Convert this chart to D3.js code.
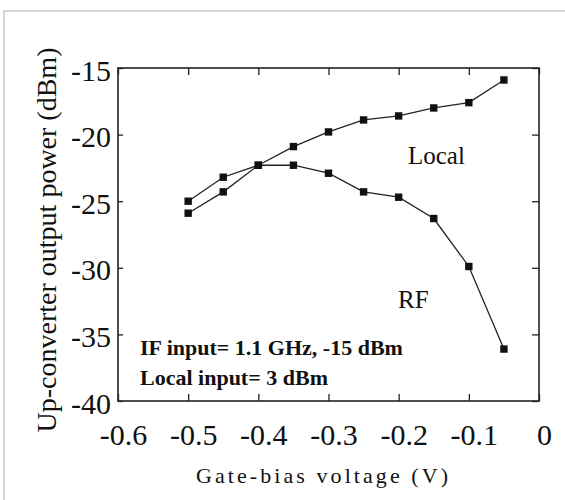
<!DOCTYPE html>
<html>
<head>
<meta charset="utf-8">
<script src="https://cdn.jsdelivr.net/npm/d3@7/dist/d3.min.js"></script>
</head>
<body style="margin:0">
<svg width="565" height="500" font-family="Liberation Serif"></svg>
<script>

// gate-bias voltage (V)
var gateBias = [-0.5, -0.45, -0.4, -0.35, -0.3, -0.25, -0.2, -0.15, -0.1, -0.05];
// up-converter output power (dBm)
var localPower = [-25.9, -24.3, -22.3, -20.9, -19.8, -18.9, -18.6, -18.0, -17.6, -15.9];
var rfPower    = [-25.0, -23.2, -22.3, -22.3, -22.9, -24.3, -24.7, -26.3, -29.9, -36.1];

var xTicks = [-0.6, -0.5, -0.4, -0.3, -0.2, -0.1, 0];
var xTickLabels = ["-0.6", "-0.5", "-0.4", "-0.3", "-0.2", "-0.1", "0"];
var yTicks = [-40, -35, -30, -25, -20, -15];
var yTickLabels = ["-40", "-35", "-30", "-25", "-20", "-15"];

var svg = d3.select("svg"),
    margin = {top: 68, right: 26, bottom: 99, left: 118},
    width = +svg.attr("width") - margin.left - margin.right,
    height = +svg.attr("height") - margin.top - margin.bottom;

// light frame of the scanned figure
svg.append("path")
    .attr("d", "M4,500V11H565")
    .attr("fill", "none")
    .attr("stroke", "#c9c9c9")
    .attr("stroke-width", 1.5);

var g = svg.append("g").attr("transform", "translate(" + margin.left + "," + margin.top + ")");

var x = d3.scaleLinear().domain([-0.6, 0]).range([0, width]);
var y = d3.scaleLinear().domain([-40, -15]).range([height, 0]);

// axes: inward ticks on all sides, labels only bottom and left
var xAxis = g.append("g")
    .attr("transform", "translate(0," + height + ")")
    .call(d3.axisBottom(x).tickValues(xTicks).tickSize(-7).tickSizeOuter(0).tickPadding(23)
      .tickFormat(function(d, i) { return xTickLabels[i]; }));

var yAxis = g.append("g")
    .call(d3.axisLeft(y).tickValues(yTicks).tickSize(-5).tickSizeOuter(0).tickPadding(7)
      .tickFormat(function(d, i) { return yTickLabels[i]; }));

[xAxis, yAxis].forEach(function(ax) {
  ax.attr("font-family", "Liberation Serif").attr("font-size", 30);
  ax.selectAll("text")
      .attr("font-family", "Liberation Serif")
      .attr("font-size", 30)
      .attr("fill", "#111");
});
xAxis.selectAll("text").attr("dx", 5);
yAxis.selectAll("text").attr("dy", "0.4em");

g.append("g")
    .call(d3.axisTop(x).tickValues(xTicks).tickSize(-7).tickSizeOuter(0).tickFormat(""));
g.append("g")
    .attr("transform", "translate(" + width + ",0)")
    .call(d3.axisRight(y).tickValues(yTicks).tickSize(-7).tickSizeOuter(0).tickFormat(""));

g.selectAll(".domain").remove();
g.selectAll(".tick line").attr("stroke", "#222").attr("stroke-width", 1.3);

g.append("rect")
    .attr("width", width)
    .attr("height", height)
    .attr("fill", "none")
    .attr("stroke", "#222")
    .attr("stroke-width", 1.6);

// series
var line = d3.line()
    .x(function(d) { return x(d[0]); })
    .y(function(d) { return y(d[1]); });

[localPower, rfPower].forEach(function(vals) {
  var pts = gateBias.map(function(v, i) { return [v, vals[i]]; });
  g.append("path")
      .datum(pts)
      .attr("fill", "none")
      .attr("stroke", "#222")
      .attr("stroke-width", 1.3)
      .attr("d", line);
  g.selectAll(null)
      .data(pts)
    .enter().append("rect")
      .attr("x", function(d) { return x(d[0]) - 3.7; })
      .attr("y", function(d) { return y(d[1]) - 3.7; })
      .attr("width", 7.4)
      .attr("height", 7.4)
      .attr("fill", "#111");
});

function label(px, py, txt, size) {
  return svg.append("text")
      .attr("x", px)
      .attr("y", py)
      .attr("font-family", "Liberation Serif")
      .attr("font-size", size)
      .attr("fill", "#111")
      .text(txt);
}

label(408, 164, "Local", 25);
label(398, 308, "RF", 25);
label(140, 355, "IF input= 1.1 GHz, -15 dBm", 22).attr("font-weight", "bold");
label(140, 385, "Local input= 3 dBm", 22).attr("font-weight", "bold");

// axis titles
label(322, 483, "Gate-bias voltage (V)", 22)
    .attr("text-anchor", "middle")
    .attr("textLength", 252);

label(0, 0, "Up-converter output power (dBm)", 28)
    .attr("transform", "translate(56,240) rotate(-90)")
    .attr("text-anchor", "middle");

</script>
</body>
</html>
